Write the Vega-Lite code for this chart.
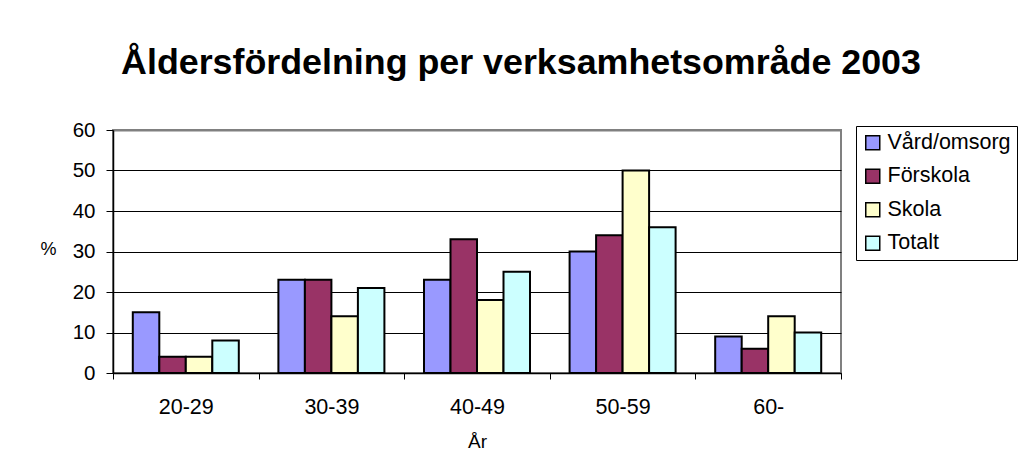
{
  "$schema": "https://vega.github.io/schema/vega-lite/v6.json",
  "width": 728,
  "height": 243,
  "autosize": {"type": "none"},
  "padding": {"left": 113, "top": 130, "right": 178, "bottom": 101},
  "background": "white",
  "title": {
    "text": "Åldersfördelning per verksamhetsområde 2003",
    "font": "Liberation Sans",
    "fontSize": 35.8,
    "fontWeight": "bold",
    "color": "black",
    "anchor": "middle",
    "frame": "group",
    "dx": 44,
    "baseline": "alphabetic",
    "offset": 10
  },
  "data": {
    "values": [
      {"ar": "20-29", "grupp": "Vård/omsorg", "pct": 15},
      {"ar": "20-29", "grupp": "Förskola", "pct": 4},
      {"ar": "20-29", "grupp": "Skola", "pct": 4},
      {"ar": "20-29", "grupp": "Totalt", "pct": 8},
      {"ar": "30-39", "grupp": "Vård/omsorg", "pct": 23},
      {"ar": "30-39", "grupp": "Förskola", "pct": 23},
      {"ar": "30-39", "grupp": "Skola", "pct": 14},
      {"ar": "30-39", "grupp": "Totalt", "pct": 21},
      {"ar": "40-49", "grupp": "Vård/omsorg", "pct": 23},
      {"ar": "40-49", "grupp": "Förskola", "pct": 33},
      {"ar": "40-49", "grupp": "Skola", "pct": 18},
      {"ar": "40-49", "grupp": "Totalt", "pct": 25},
      {"ar": "50-59", "grupp": "Vård/omsorg", "pct": 30},
      {"ar": "50-59", "grupp": "Förskola", "pct": 34},
      {"ar": "50-59", "grupp": "Skola", "pct": 50},
      {"ar": "50-59", "grupp": "Totalt", "pct": 36},
      {"ar": "60-", "grupp": "Vård/omsorg", "pct": 9},
      {"ar": "60-", "grupp": "Förskola", "pct": 6},
      {"ar": "60-", "grupp": "Skola", "pct": 14},
      {"ar": "60-", "grupp": "Totalt", "pct": 10}
    ]
  },
  "mark": {"type": "bar", "stroke": "black", "strokeWidth": 2},
  "encoding": {
    "x": {
      "field": "ar",
      "type": "nominal",
      "sort": ["20-29", "30-39", "40-49", "50-59", "60-"],
      "scale": {"paddingInner": 0, "paddingOuter": 0},
      "title": "År",
      "axis": {
        "labelAngle": 0,
        "tickBand": "extent",
        "tickSize": 6,
        "tickColor": "black",
        "tickWidth": 1,
        "labelPadding": 17,
        "labelFontSize": 21.5,
        "labelColor": "black",
        "domainColor": "black",
        "domainWidth": 1.5,
        "titleFontSize": 19,
        "titleFontWeight": "normal",
        "titleColor": "black",
        "titleBaseline": "alphabetic",
        "titleY": 74
      }
    },
    "xOffset": {
      "field": "grupp",
      "type": "nominal",
      "sort": ["Vård/omsorg", "Förskola", "Skola", "Totalt"],
      "scale": {"paddingInner": 0, "paddingOuter": 0.747}
    },
    "y": {
      "field": "pct",
      "type": "quantitative",
      "scale": {"domain": [0, 60], "nice": false},
      "title": "%",
      "axis": {
        "values": [0, 10, 20, 30, 40, 50, 60],
        "tickSize": 7,
        "tickColor": "black",
        "tickWidth": 1,
        "labelPadding": 11,
        "labelFontSize": 20.5,
        "labelColor": "black",
        "domainColor": "black",
        "domainWidth": 1.5,
        "gridColor": {"condition": {"test": "datum.value === 60", "value": "#808080"}, "value": "black"},
        "gridWidth": {"condition": {"test": "datum.value === 60", "value": 2}, "value": 1},
        "titleAngle": 0,
        "titleAlign": "center",
        "titleBaseline": "alphabetic",
        "titleX": -65,
        "titleY": 124,
        "titleFontSize": 18,
        "titleFontWeight": "normal",
        "titleColor": "black"
      }
    },
    "color": {
      "field": "grupp",
      "type": "nominal",
      "sort": ["Vård/omsorg", "Förskola", "Skola", "Totalt"],
      "scale": {
        "domain": ["Vård/omsorg", "Förskola", "Skola", "Totalt"],
        "range": ["#9999FF", "#993366", "#FFFFCC", "#CCFFFF"]
      },
      "legend": {
        "orient": "none",
        "legendX": 743,
        "legendY": -4,
        "title": null,
        "symbolType": "square",
        "symbolSize": 196,
        "symbolStrokeColor": "black",
        "symbolStrokeWidth": 1.5,
        "symbolOpacity": 1,
        "labelFontSize": 21.5,
        "labelColor": "black",
        "labelOffset": 4,
        "strokeColor": "black",
        "fillColor": "white",
        "padding": 6,
        "rowPadding": 10.5,
        "cornerRadius": 0
      }
    }
  },
  "config": {
    "font": "Liberation Sans",
    "view": {"stroke": "#808080", "strokeWidth": 2},
    "axis": {"labelFont": "Liberation Sans", "titleFont": "Liberation Sans"},
    "legend": {"labelFont": "Liberation Sans"}
  }
}
